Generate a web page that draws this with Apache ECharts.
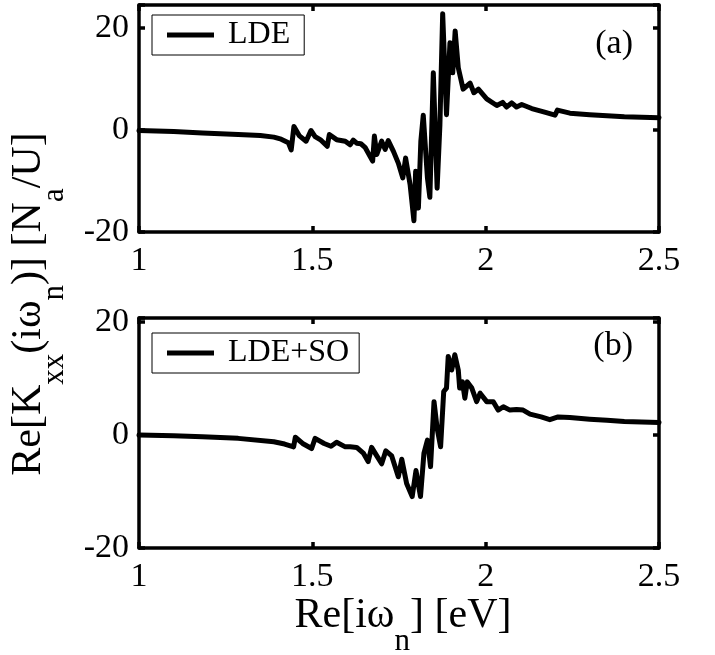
<!DOCTYPE html>
<html>
<head>
<meta charset="utf-8">
<script src="https://cdn.jsdelivr.net/npm/echarts@6/dist/echarts.min.js"></script>
<style>
html,body{margin:0;padding:0;background:#fff;}
#chart{width:715px;height:655px;}
</style>
</head>
<body>
<div id="chart"></div>
<script>
// ---- data ----
const xTicks = [1, 1.5, 2, 2.5];
const yTicks = [-20, 0, 20];

const xA = [1.0, 1.1, 1.183, 1.286, 1.35, 1.389, 1.41, 1.431, 1.439, 1.447, 1.462, 1.482, 1.496, 1.508, 1.525, 1.543, 1.549, 1.570, 1.595, 1.609, 1.618, 1.628, 1.640, 1.652, 1.674, 1.679, 1.686, 1.700, 1.710, 1.719, 1.734, 1.748, 1.761, 1.769, 1.782, 1.793, 1.798, 1.806, 1.813, 1.820, 1.832, 1.839, 1.849, 1.860, 1.868, 1.876, 1.887, 1.897, 1.905, 1.912, 1.921, 1.935, 1.955, 1.966, 1.979, 2.003, 2.032, 2.049, 2.060, 2.075, 2.089, 2.104, 2.133, 2.17, 2.200, 2.207, 2.243, 2.30, 2.35, 2.40, 2.45, 2.5];
const yA = [-0.1, -0.3, -0.6, -0.9, -1.1, -1.4, -1.8, -2.5, -3.9, 0.7, -1.1, -2.2, -0.1, -1.3, -2.0, -3.2, -0.9, -1.9, -2.2, -2.9, -2.0, -2.6, -2.7, -3.4, -6.1, -1.2, -4.8, -2.2, -3.8, -2.1, -4.2, -6.5, -9.4, -5.5, -10.7, -17.8, -8.1, -15.3, -2.2, 2.9, -9.4, -13.2, 11.2, -11.4, 1.0, 22.8, 3.0, 17.1, 11.2, 19.4, 12.2, 8.0, 9.2, 7.3, 8.0, 6.1, 4.8, 5.4, 4.5, 5.3, 4.5, 5.0, 4.2, 3.5, 2.9, 3.9, 3.3, 3.0, 2.8, 2.6, 2.5, 2.4];

const xB = [1.0, 1.1, 1.183, 1.286, 1.389, 1.420, 1.446, 1.451, 1.472, 1.498, 1.508, 1.534, 1.554, 1.570, 1.595, 1.609, 1.628, 1.647, 1.661, 1.671, 1.686, 1.700, 1.712, 1.729, 1.748, 1.758, 1.772, 1.788, 1.799, 1.812, 1.822, 1.832, 1.841, 1.851, 1.860, 1.870, 1.879, 1.887, 1.892, 1.902, 1.911, 1.921, 1.925, 1.933, 1.940, 1.947, 1.960, 1.974, 1.984, 2.003, 2.022, 2.036, 2.051, 2.070, 2.089, 2.108, 2.128, 2.16, 2.185, 2.209, 2.243, 2.30, 2.35, 2.40, 2.45, 2.5];
const yB = [0.0, -0.15, -0.3, -0.6, -1.2, -1.6, -2.1, -0.4, -1.5, -2.4, -0.6, -1.5, -2.0, -1.3, -2.1, -2.1, -2.2, -3.2, -4.7, -2.2, -3.7, -5.1, -2.8, -3.7, -7.4, -4.3, -8.6, -10.9, -6.3, -10.9, -3.2, -0.9, -5.6, 5.9, 1.2, -2.1, 7.7, 8.3, 13.9, 11.5, 14.2, 11.5, 8.3, 9.4, 6.5, 9.4, 8.3, 5.9, 7.4, 5.9, 5.9, 4.4, 5.0, 4.4, 4.5, 4.4, 3.7, 3.2, 2.7, 3.2, 3.1, 2.8, 2.6, 2.4, 2.3, 2.2];

const seriesNames = ['LDE', 'LDE+SO'];
const panelLabels = ['(a)', '(b)'];
const xTitle = '{m|Re[iω}{s|n}{m|] [eV]}';
const yTitle = '{m|Re[K}{s|xx}{m|(iω}{s|n}{m|)] [N}{s|a}{m|/U]}';

// ---- chart ----
const FONT = '"Liberation Serif", "Times New Roman", Times, serif';
const zip = (xs, ys) => xs.map((x, i) => [x, ys[i]]);
const yRanges = [[-20, 24.5], [-20, 20.7]];
const grids = [
  {left: 139, right: 56, top: 5, height: 227},
  {left: 139, right: 56, top: 318, height: 230}
];
const lineStyle = {color: '#000', width: 3.5};
function xAxisDef(g, pos, showLabel) {
  return {
    gridIndex: g, type: 'value', position: pos,
    min: xTicks[0], max: xTicks[xTicks.length - 1], interval: 0.5,
    axisLine: {show: true, onZero: false, lineStyle: lineStyle},
    axisTick: {show: true, inside: true, length: 6, lineStyle: lineStyle},
    axisLabel: {show: showLabel, color: '#000', fontSize: 34, fontFamily: FONT, margin: 12,
      formatter: v => (xTicks.some(t => Math.abs(t - v) < 1e-9) ? String(v) : '')},
    splitLine: {show: false}
  };
}
function yAxisDef(g, pos, showLabel) {
  return {
    gridIndex: g, type: 'value', position: pos,
    min: yRanges[g][0], max: yRanges[g][1], interval: 20,
    axisLine: {show: true, onZero: false, lineStyle: lineStyle},
    axisTick: {show: true, inside: true, length: 6, lineStyle: lineStyle},
    axisLabel: {show: showLabel, color: '#000', fontSize: 34, fontFamily: FONT, margin: 10,
      formatter: v => (yTicks.some(t => Math.abs(t - v) < 1e-9) ? String(v) : '')},
    splitLine: {show: false}
  };
}
function legendDef(name, top, pr) {
  return {
    data: [name], left: 152, top: top, orient: 'horizontal',
    borderColor: '#000', borderWidth: 1, padding: [4, pr, 4, 15],
    icon: 'rect', itemWidth: 47, itemHeight: 5,
    selectedMode: false,
    textStyle: {color: '#000', fontSize: 32, fontFamily: FONT, lineHeight: 32, padding: [0, 0, 0, 9]}
  };
}
const rich = {
  m: {fontSize: 42, lineHeight: 42, fontFamily: FONT, fill: '#000', verticalAlign: 'top'},
  s: {fontSize: 31, lineHeight: 31, fontFamily: FONT, fill: '#000', verticalAlign: 'top', padding: [31, 0, 0, 0]}
};

const chart = echarts.init(document.getElementById('chart'), null, {renderer: 'canvas'});
chart.setOption({
  animation: false,
  backgroundColor: '#fff',
  grid: grids,
  xAxis: [xAxisDef(0, 'bottom', true), xAxisDef(0, 'top', false), xAxisDef(1, 'bottom', true), xAxisDef(1, 'top', false)],
  yAxis: [yAxisDef(0, 'left', true), yAxisDef(0, 'right', false), yAxisDef(1, 'left', true), yAxisDef(1, 'right', false)],
  legend: [legendDef(seriesNames[0], 15, 14), legendDef(seriesNames[1], 333, 10)],
  series: [
    {name: seriesNames[0], type: 'line', xAxisIndex: 0, yAxisIndex: 0, data: zip(xA, yA),
      symbol: 'none', lineStyle: {color: '#000', width: 5, join: 'round', cap: 'round'}, itemStyle: {color: '#000'}},
    {name: seriesNames[1], type: 'line', xAxisIndex: 2, yAxisIndex: 2, data: zip(xB, yB),
      symbol: 'none', lineStyle: {color: '#000', width: 5, join: 'round', cap: 'round'}, itemStyle: {color: '#000'}}
  ],
  graphic: [
    {type: 'text', x: 633, y: 44, style: {text: panelLabels[0], fontSize: 34, fontFamily: FONT, fill: '#000', align: 'right', verticalAlign: 'middle'}},
    {type: 'text', x: 633, y: 346, style: {text: panelLabels[1], fontSize: 34, fontFamily: FONT, fill: '#000', align: 'right', verticalAlign: 'middle'}},
    {type: 'text', x: 403, y: 595, style: {text: xTitle, rich: rich, align: 'center', verticalAlign: 'top', fill: '#000'}},
    {type: 'text', x: 8, y: 304, rotation: Math.PI / 2, style: {text: yTitle, rich: rich, align: 'center', verticalAlign: 'top', fill: '#000'}}
  ]
});
</script>
</body>
</html>
